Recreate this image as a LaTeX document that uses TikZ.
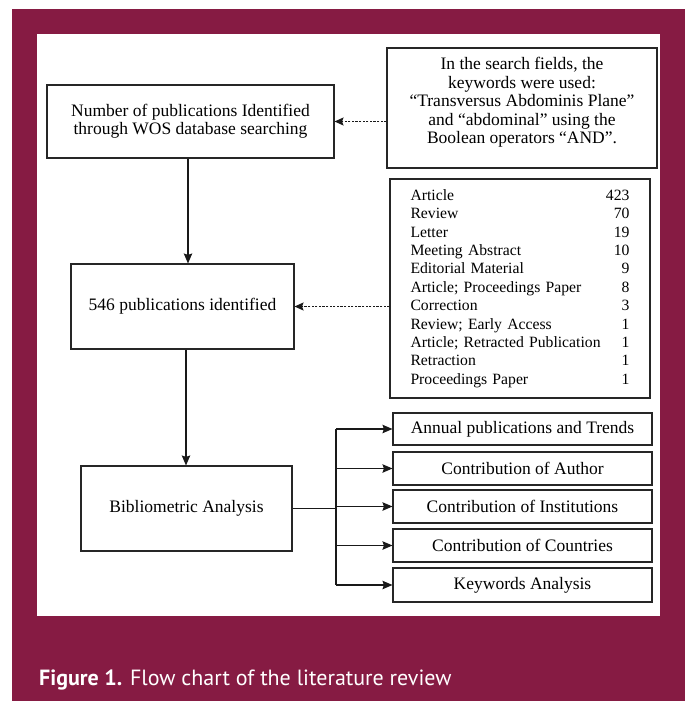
\documentclass[tikz,border=0pt]{standalone}
\usepackage{fontspec}
\setmainfont{Liberation Serif}
\newfontfamily\capfont{PT Sans}
\usetikzlibrary{arrows.meta}
\definecolor{maroon}{RGB}{134,27,67}
\tikzset{
  box/.style={draw=black!85, line width=1.1pt, rectangle, inner sep=2pt, align=center, font=\fontsize{17.5}{18.4}\selectfont},
  plaintext/.style={inner sep=0pt, align=center, font=\fontsize{17.5}{18.4}\selectfont},
  arr/.style={draw=black!90, line width=1.1pt, -{Stealth[length=10pt,width=8.5pt,inset=1.5pt]}},
  dasharr/.style={draw=black!90, line width=1.1pt, dash pattern=on 2.2pt off 1.4pt, -{Stealth[length=9pt,width=8pt,inset=1.5pt]}},
  line/.style={draw=black!90, line width=1.1pt}
}
\begin{document}
\begin{tikzpicture}[x=1pt,y=-1pt]
\useasboundingbox (0,0) rectangle (688,701);
\fill[white] (0,0) rectangle (688,701);
\fill[maroon] (12,9) rectangle (685,701);
\fill[white] (37,34) rectangle (660,616);

\node[box, minimum width=287pt, minimum height=73pt] (wos) at (190.5,121.5)
  {Number of publications Identified\\through WOS database searching};
\node[box, minimum width=270pt, minimum height=120pt] (kw) at (522,108) {};
\node[plaintext] (kwtext) at (522,102.5)
  {In the search fields, the\\keywords were used:\\``Transversus Abdominis Plane''\\and ``abdominal'' using the\\Boolean operators ``AND''.};
\node[box, minimum width=260pt, minimum height=219pt, text width=219pt, align=left, font=\fontsize{15.7}{18.4}\selectfont] (types) at (520,288.5)
  {Article\hfill 423\\Review\hfill 70\\Letter\hfill 19\\Meeting Abstract\hfill 10\\Editorial Material\hfill 9\\Article; Proceedings Paper\hfill 8\\Correction\hfill 3\\Review; Early Access\hfill 1\\Article; Retracted Publication\hfill 1\\Retraction\hfill 1\\Proceedings Paper\hfill 1};
\node[box, minimum width=223pt, minimum height=85pt] (ident) at (182.5,306.5)
  {546 publications identified};
\node[box, minimum width=211pt, minimum height=85pt] (biblio) at (186.5,508.5)
  {Bibliometric Analysis};

\node[box, minimum width=259pt, minimum height=32pt] (annual) at (522.5,429)
  {Annual publications and Trends};
\node[box, minimum width=259pt, minimum height=33pt] (author) at (522.5,468.5)
  {Contribution of Author};
\node[box, minimum width=259pt, minimum height=33pt] (inst) at (522.5,506.5)
  {Contribution of Institutions};
\node[box, minimum width=259pt, minimum height=33pt] (country) at (522.5,545.5)
  {Contribution of Countries};
\node[box, minimum width=259pt, minimum height=34pt] (keyw) at (522.5,585)
  {Keywords Analysis};

\draw[dasharr] (kw.west |- wos.east) -- (wos.east);
\draw[dasharr] (types.west |- ident.east) -- (ident.east);
\draw[arr] (wos.south -| 188,0) -- (ident.north -| 188,0);
\draw[arr] (ident.south -| 186,0) -- (biblio.north -| 186,0);

\coordinate (bus) at (336,508.5);
\coordinate (bustop) at (336,429);
\coordinate (busbot) at (336,585);
\draw[line] (biblio.east) -- (bus);
\draw[line] (bustop) -- (busbot);
\draw[arr] (bustop) -- (annual.west);
\draw[arr] (author.west -| bus) -- (author.west);
\draw[arr] (inst.west -| bus) -- (inst.west);
\draw[arr] (country.west -| bus) -- (country.west);
\draw[arr] (busbot) -- (keyw.west);

\node[anchor=base west, inner sep=0pt, text=white, font=\capfont\fontsize{22}{26}\selectfont] (cap) at (39,685)
  {\textbf{Figure 1.} Flow chart of the literature review};
\end{tikzpicture}
\end{document}
